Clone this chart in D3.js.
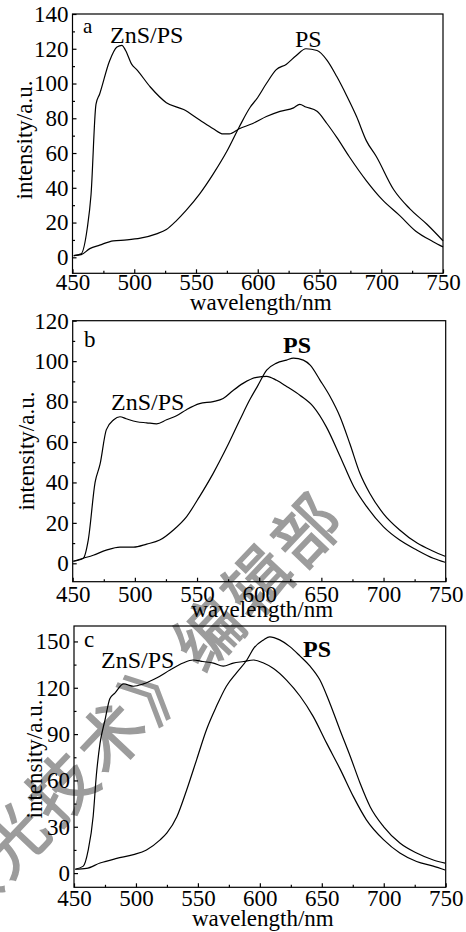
<!DOCTYPE html>
<html>
<head>
<meta charset="utf-8">
<script src="https://cdn.jsdelivr.net/npm/d3@7"></script>
<style>
  body { margin: 0; background: #fff; }
  svg { display: block; }
  text { font-family: "Liberation Serif", "DejaVu Serif", serif; fill: #000; }
</style>
</head>
<body>
<svg id="chart" width="466" height="932"></svg>
<script>
// ---- data ----
const xTicks = [450, 500, 550, 600, 650, 700, 750];
const aYTicks = [0, 20, 40, 60, 80, 100, 120, 140];
const bYTicks = [0, 20, 40, 60, 80, 100, 120];
const cYTicks = [0, 30, 60, 90, 120, 150];

// panel a
const aZnsWl = [451,457,462,465,469,472,480,486,490,493,498,502,513,526,540,553,564,572,577,585,596,607,618,629,634,639,648,656,664,674,688,701,715,728,742,750];
const aZnsI  = [1,2,17,36,88,94,113,121,122,119,111,108,98,89,85,79,74,71,71,74,77,81,84,86,88,86.5,84,77,69,58,44,33,24,15,9,6];
const aPsWl  = [451,457,464,472,483,494,505,518,526,534,542,553,564,575,585,594,599,607,615,623,631,639,648,656,664,672,680,688,696,710,723,737,750];
const aPsI   = [1,1.5,5,7,9.5,10,11,13.5,16,21,27,36.5,48,61,75,86.5,91,100,108,111,116,120,119,113.5,104,93,81,67,58,39,28,19,9.5];

// panel b
const bZnsWl = [450.5,458.5,462.5,468,472,477,483,488,493,501.5,509.5,517.5,525.5,533.5,541.5,552,563,571,579,587,598,606,614,622,633,643.5,654,665,676,686.5,700,713,727,740,749.5];
const bZnsI  = [1,2.5,11.5,40,49,66,71,72.5,71.5,70,69.5,69,71,73,76,79,80,81.5,85.5,89,92,92.5,90.5,87.5,83,77.5,67.5,53,38,28,18,11.5,6.5,2.5,0.5];
const bPsWl  = [450.5,458.5,466.5,477,488,499,509.5,520,531,541.5,552,563,574,584.5,592.5,599,606,614,622,627.5,635.5,641,649,657,665,673,681,689,700,713,727,740,749.5];
const bPsI   = [1,2.5,4,6.5,8,8,9.5,11.5,16.5,23,33,44.5,57.5,71,81,88,95.5,99,100.5,101.5,100.5,98,90.5,82.5,72.5,59,44.5,34.5,24.5,16.5,10,6,3.5];

// panel c
const cZnsWl = [451,457.5,461.5,465.5,468,471,475,479,483,490,498,506,517,527.5,538,546,554,562.5,570.5,578.5,587,595,603,611,621.5,632.5,643,654,665,675.5,686,700,713,726.5,740,749.5];
const cZnsI  = [2.5,4.5,15,37,63,84,99,113,116.5,122.5,121,122.5,126.5,131.5,136,138,137,136,134,136,137,138,136,132.5,125,114.5,101.5,84,67,49.5,34.5,21.5,13,7.5,4.5,2];
const cPsWl  = [451,460,471,484.5,498,508.5,519.5,525,533,541,549,557,565,573,581,589.5,595,603,608,616,624.5,632.5,640.5,648.5,656.5,664.5,673,681,689,700,713,726.5,740,749.5];
const cPsI   = [2.5,3,6.5,9.5,12,15,21.5,26,36.5,54,73.5,93,108,121,129.5,138,145.5,151,153,151,146.5,140.5,134,125,110,93,75.5,58,43,30,19.5,13,8.5,6.5];

const serif = '"Liberation Serif", "DejaVu Serif", serif';
const svg = d3.select('#chart');

// watermark (drawn first, under the chart)
svg.append('text')
  .attr('transform', 'translate(350,520) rotate(-46.5)')
  .attr('text-anchor', 'end')
  .style('font-family', '"Noto Sans CJK SC", sans-serif')
  .style('font-weight', 'normal')
  .style('font-size', '66px')
  .style('letter-spacing', '5px')
  .style('fill', '#9c9c9c')
  .style('stroke', '#9c9c9c')
  .style('stroke-width', 1.5)
  .text('《激光技术》编辑部');

const zip = (xs, ys) => xs.map((v, i) => ({ w: v, i: ys[i] }));

const panels = [
  { tag: 'a', left: 72.5, right: 443, top: 14, bottom: 273.3, yDomain: [-9.2, 140], yTicks: aYTicks, yMinor: 10,
    xPad: 0, xLabelY: 310, yLabelX: 32, yLabelY: 140,
    series: [zip(aZnsWl, aZnsI), zip(aPsWl, aPsI)],
    labels: [{ t: 'a', x: 83, y: 33, size: 21 }, { t: 'ZnS/PS', x: 110, y: 43, size: 24 }, { t: 'PS', x: 295, y: 47, size: 24 }] },
  { tag: 'b', left: 72.7, right: 445.7, top: 320.7, bottom: 581.7, yDomain: [-9.1, 120], yTicks: bYTicks, yMinor: 10,
    xPad: 4, xLabelY: 617, yLabelX: 34, yLabelY: 451,
    series: [zip(bZnsWl, bZnsI), zip(bPsWl, bPsI)],
    labels: [{ t: 'b', x: 84, y: 347, size: 23 }, { t: 'ZnS/PS', x: 111, y: 410, size: 24 }, { t: 'PS', x: 283, y: 353, size: 24, bold: true }] },
  { tag: 'c', left: 74, right: 445.7, top: 626, bottom: 887.3, yDomain: [-9.2, 160], yTicks: cYTicks, yMinor: 15,
    xPad: 2, xLabelY: 926, yLabelX: 42, yLabelY: 759,
    series: [zip(cZnsWl, cZnsI), zip(cPsWl, cPsI)],
    labels: [{ t: 'c', x: 84, y: 647, size: 23 }, { t: 'ZnS/PS', x: 101, y: 668, size: 24 }, { t: 'PS', x: 303, y: 657, size: 24, bold: true }] }
];

function drawPanel(p) {
  const x = d3.scaleLinear().domain([450, 750]).range([p.left, p.right]);
  const y = d3.scaleLinear().domain(p.yDomain).range([p.bottom, p.top]);
  const g = svg.append('g').attr('class', 'panel-' + p.tag);

  g.append('rect')
    .attr('x', p.left).attr('y', p.top)
    .attr('width', p.right - p.left).attr('height', p.bottom - p.top)
    .attr('fill', 'none').attr('stroke', '#000').attr('stroke-width', 1.2);

  // x axis, major + minor ticks pointing inward
  const xMinor = d3.range(475, 750, 50);
  const xa = g.append('g')
    .attr('transform', `translate(0,${p.bottom})`)
    .call(d3.axisBottom(x).tickValues(xTicks).tickSize(-4).tickSizeOuter(0).tickPadding(p.xPad));
  g.append('g')
    .attr('transform', `translate(0,${p.bottom})`)
    .call(d3.axisBottom(x).tickValues(xMinor).tickSize(-2.5).tickSizeOuter(0).tickFormat(''));

  // y axis
  const yMinor = d3.range(p.yMinor, p.yDomain[1], p.yMinor * 2);
  const ya = g.append('g')
    .attr('transform', `translate(${p.left},0)`)
    .call(d3.axisLeft(y).tickValues(p.yTicks).tickSize(-4).tickSizeOuter(0).tickPadding(4));
  g.append('g')
    .attr('transform', `translate(${p.left},0)`)
    .call(d3.axisLeft(y).tickValues(yMinor).tickSize(-2.5).tickSizeOuter(0).tickFormat(''));

  g.selectAll('.domain').remove();
  g.selectAll('.tick line').attr('stroke', '#000').attr('stroke-width', 1.2);
  [xa, ya].forEach(a => a.attr('font-family', serif).attr('font-size', 23)
    .selectAll('text')
    .style('font-family', serif)
    .style('font-size', '23px')
    .attr('fill', '#000'));

  // curves
  const line = d3.line().x(d => x(d.w)).y(d => y(d.i)).curve(d3.curveMonotoneX);
  g.selectAll('path.curve').data(p.series).enter()
    .append('path')
    .attr('class', 'curve')
    .attr('d', line)
    .attr('fill', 'none')
    .attr('stroke', '#000')
    .attr('stroke-width', 1.2);

  // axis titles
  g.append('text')
    .attr('x', (p.left + p.right) / 2 + 3).attr('y', p.xLabelY)
    .attr('text-anchor', 'middle')
    .style('font-size', '23px')
    .text('wavelength/nm');
  g.append('text')
    .attr('transform', `translate(${p.yLabelX},${p.yLabelY}) rotate(-90)`)
    .attr('text-anchor', 'middle')
    .style('font-size', '23px')
    .text('intensity/a.u.');

  // in-plot labels
  p.labels.forEach(l => {
    g.append('text')
      .attr('x', l.x).attr('y', l.y)
      .style('font-size', l.size + 'px')
      .style('font-weight', l.bold ? 'bold' : 'normal')
      .text(l.t);
  });
}

panels.forEach(drawPanel);
</script>
</body>
</html>
